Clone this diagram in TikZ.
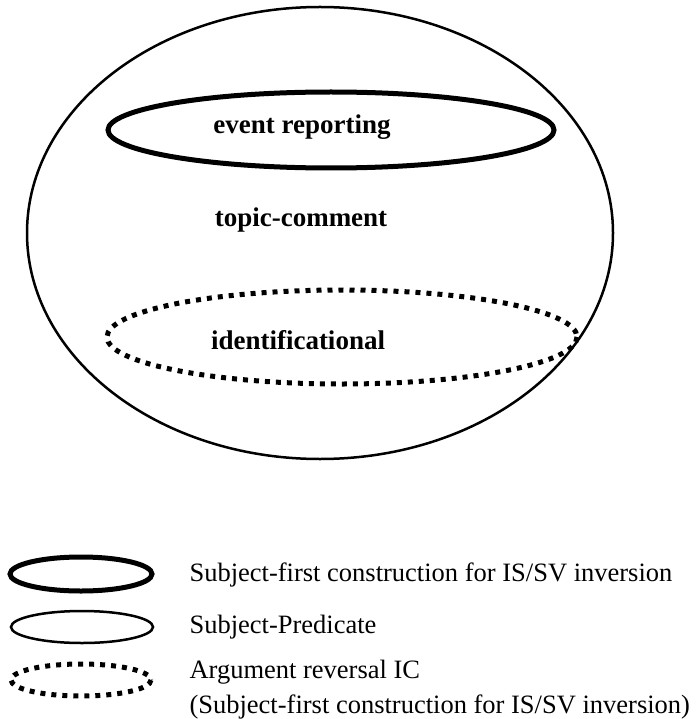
\documentclass[tikz,border=0pt]{standalone}
\usepackage{fontspec}
\setmainfont{Liberation Serif}
\usepackage{tikz}

\tikzset{
    thickring/.style = {line width = 5pt, draw = black},
    thinring/.style = {line width = 2.5pt, draw = black},
    dotring/.style = {line width = 5pt, draw = black, dash pattern = on 5pt off 6pt},
    lbl/.style = {font = \fontsize{27}{33}\selectfont\bfseries},
    keytext/.style = {font = \fontsize{26.5}{35}\selectfont, anchor = west, align = left}
}

\begin{document}
\begin{tikzpicture}[x = 1pt, y = -1pt]
            \useasboundingbox (0, 0) rectangle (700, 719);
            % main picture
            \draw[thinring] (320, 233) ellipse (293 and 226);
            \draw[thickring] (331, 130) ellipse (223 and 38);
            \draw[dotring] (342, 337) ellipse (235 and 47);
            \node[lbl] (evt) at (302, 127) {event reporting};
            \node[lbl] (topic) at (301, 220) {topic-comment};
            \node[lbl] (ident) at (298, 340) {identificational};
            % legend
            \draw[thickring] (81, 574) ellipse (71 and 17);
            \draw[thinring] (82, 627) ellipse (71 and 16);
            \draw[dotring] (81, 680) ellipse (70 and 16);
            \node[keytext] (keyA) at (186, 575) {Subject-first construction for IS/SV inversion};
            \node[keytext] (keyB) at (186, 627) {Subject-Predicate};
            \node[keytext] (keyC) at (186, 690) {Argument reversal IC\\(Subject-first construction for IS/SV inversion)};
        \end{tikzpicture}
\end{document}
